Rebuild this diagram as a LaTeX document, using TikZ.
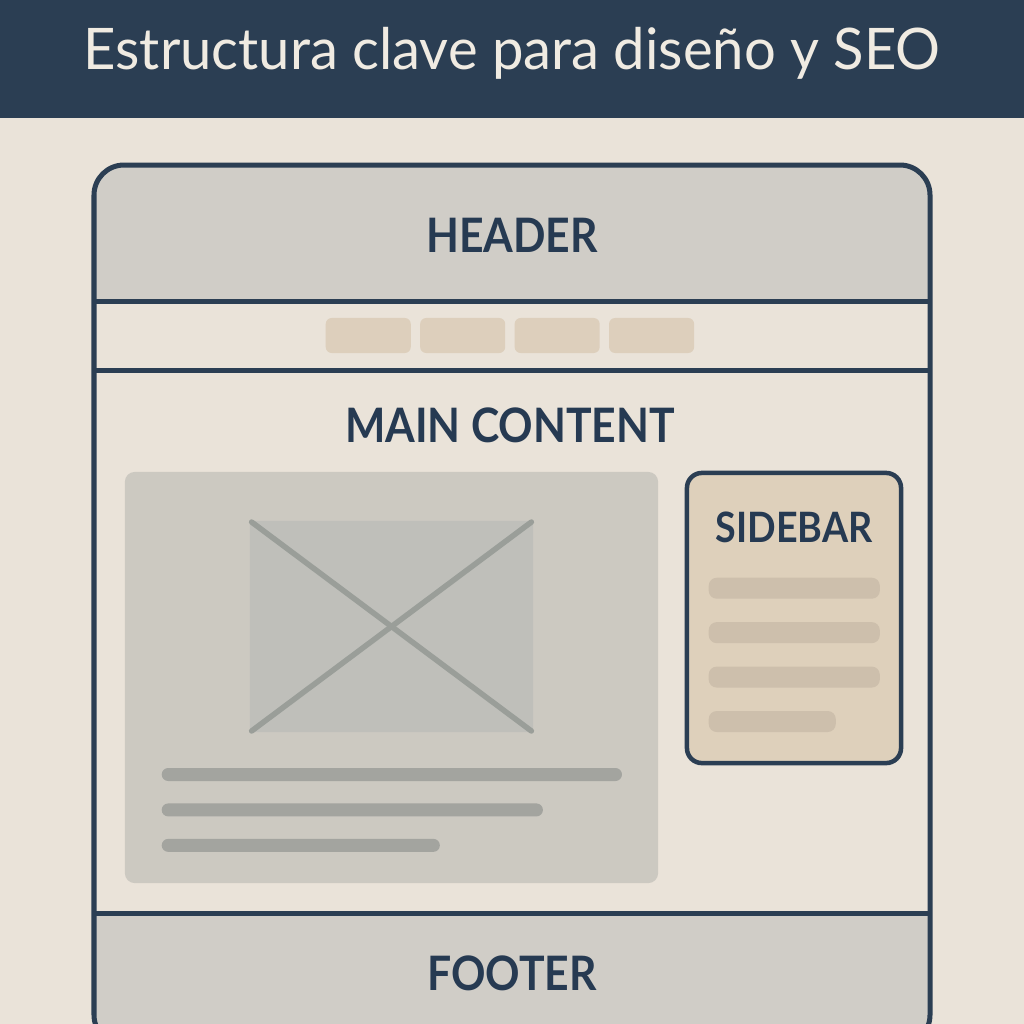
\documentclass[tikz,border=0pt]{standalone}
\usepackage{graphicx}
\usepackage{fontspec}
\setmainfont{Lato}
\usetikzlibrary{positioning}

\definecolor{navy}{HTML}{2B3E53}
\definecolor{inkblue}{HTML}{263A52}
\definecolor{paper}{HTML}{EAE3D9}
\definecolor{cream}{HTML}{F0EBE2}
\definecolor{bandgray}{HTML}{D0CDC7}
\definecolor{panelgray}{HTML}{CCC9C1}
\definecolor{imggray}{HTML}{BFBFBA}
\definecolor{crossgray}{HTML}{9A9E99}
\definecolor{bargray}{HTML}{A3A49F}
\definecolor{sand}{HTML}{DED0BB}
\definecolor{sandbar}{HTML}{CDBFAC}
\definecolor{pillsand}{HTML}{DDCFBC}

\newcommand{\squeeze}[1]{\scalebox{0.9}[1]{#1}}

\begin{document}
\begin{tikzpicture}[x=0.01cm, y=-0.01cm,
    % Styles
    titletext/.style={font=\fontsize{16.3}{19}\selectfont, text=cream, inner sep=0pt, anchor=base},
    labeltext/.style={font=\bfseries\fontsize{13.5}{16}\selectfont, text=inkblue, inner sep=0pt, anchor=base},
    sidelabel/.style={labeltext, font=\bfseries\fontsize{11.9}{14}\selectfont},
    frameline/.style={draw=navy, line width=0.05cm},
    navpill/.style={fill=pillsand, rounded corners=0.06cm, minimum width=0.85cm, minimum height=0.35cm, inner sep=0pt},
    panel/.style={fill=panelgray, rounded corners=0.1cm, minimum width=5.33cm, minimum height=4.11cm, inner sep=0pt},
    imgbox/.style={fill=imggray, rounded corners=0.04cm, minimum width=2.83cm, minimum height=2.11cm, inner sep=0pt},
    crossline/.style={draw=crossgray, line width=0.055cm, line cap=round, shorten <=0.03cm, shorten >=0.03cm},
    textbar/.style={fill=bargray, rounded corners=0.065cm, minimum height=0.13cm, inner sep=0pt},
    sidebarbox/.style={draw=navy, line width=0.045cm, fill=sand, rounded corners=0.15cm, minimum width=2.14cm, minimum height=2.90cm, inner sep=0pt},
    sidebarbar/.style={fill=sandbar, rounded corners=0.08cm, minimum height=0.21cm, inner sep=0pt}
]
    % Page and title bar
    \useasboundingbox[fill=paper] (0,0) rectangle (1024,1024);
    \fill[navy] (0,0) rectangle (1024,118);
    \node[titletext] (title) at (512,70) {\scalebox{0.98}[1]{Estructura clave para diseño y SEO}};

    % Page frame, runs past the bottom edge
    \clip (0,0) rectangle (1024,1024);
    \begin{scope}
        \clip[rounded corners=0.3cm] (94,165) rectangle (930,1045);
        \fill[bandgray] (94,165) rectangle (930,301);
        \fill[bandgray] (94,913) rectangle (930,1045);
    \end{scope}
    \draw[frameline, rounded corners=0.3cm] (94,165) rectangle (930,1045);
    \draw[frameline] (94,301) -- (930,301);
    \draw[frameline] (94,370) -- (930,370);
    \draw[frameline] (94,913) -- (930,913);

    % Header band
    \node[labeltext] (header) at (512,252) {\squeeze{HEADER}};

    % Navigation pills
    \node[navpill, anchor=west] (nav1) at (325,335.5) {};
    \node[navpill, right=0.08cm of nav1] (nav2) {};
    \node[navpill, right=0.08cm of nav2] (nav3) {};
    \node[navpill, right=0.08cm of nav3] (nav4) {};

    % Main content
    \node[labeltext] (main) at (510,442) {\squeeze{MAIN CONTENT}};
    \node[panel] (article) at (391.5,677.5) {};
    \node[imgbox] (img) at (391.5,626.5) {};
    \draw[crossline] (img.north west) -- (img.south east);
    \draw[crossline] (img.north east) -- (img.south west);

    % Article text lines
    \node[textbar, minimum width=4.60cm, anchor=west] (line1) at (161,774.5) {};
    \node[textbar, minimum width=3.81cm, below=0.21cm of line1.south west, anchor=north west] (line2) {};
    \node[textbar, minimum width=2.78cm, below=0.21cm of line2.south west, anchor=north west] (line3) {};

    % Sidebar
    \node[sidebarbox] (sidebar) at (794,618) {};
    \node[sidelabel] (sidetitle) at (794,542) {\squeeze{SIDEBAR}};
    \node[sidebarbar, minimum width=1.71cm, anchor=north west] (side1) at (708,577) {};
    \node[sidebarbar, minimum width=1.71cm, below=0.22cm of side1.south west, anchor=north west] (side2) {};
    \node[sidebarbar, minimum width=1.71cm, below=0.22cm of side2.south west, anchor=north west] (side3) {};
    \node[sidebarbar, minimum width=1.27cm, below=0.22cm of side3.south west, anchor=north west] (side4) {};

    % Footer band
    \node[labeltext] (footer) at (512,990) {\squeeze{FOOTER}};
\end{tikzpicture}
\end{document}
